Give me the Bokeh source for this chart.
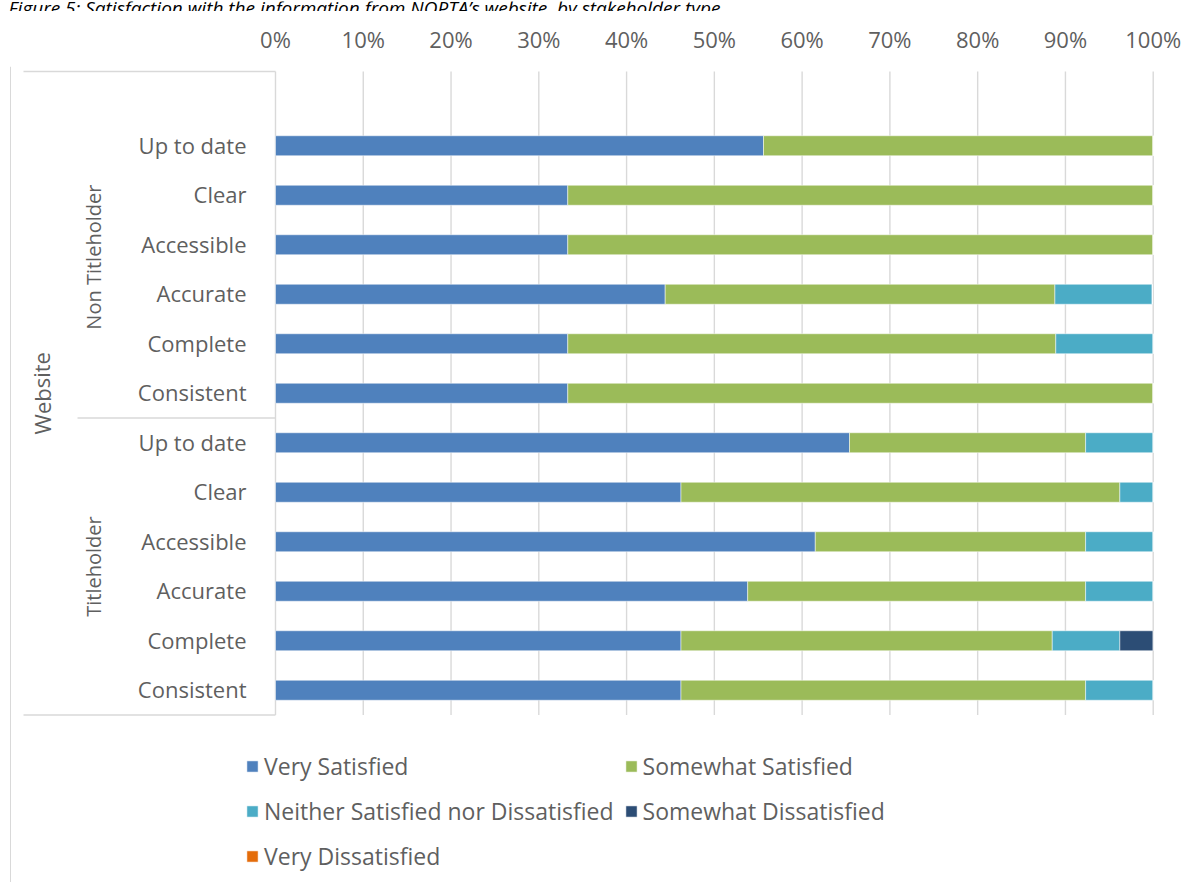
from bokeh.plotting import figure
from bokeh.layouts import column, row
from bokeh.models import Range1d, FixedTicker, ColumnDataSource
from bokeh.core.properties import value
from bokeh.embed import file_html
from bokeh.resources import INLINE

# ---------------- data ----------------
title_text = "Figure 5: Satisfaction with the information from NOPTA\u2019s website, by stakeholder type"
category_group = "Website"
stakeholders = ["Non Titleholder"] * 6 + ["Titleholder"] * 6
attributes = ["Up to date", "Clear", "Accessible", "Accurate", "Complete", "Consistent"] * 2

very_satisfied = [55.6, 33.3, 33.3, 44.4, 33.3, 33.3, 65.4, 46.2, 61.5, 53.8, 46.2, 46.2]
somewhat_satisfied = [44.4, 66.7, 66.7, 44.4, 55.6, 66.7, 26.9, 50.0, 30.8, 38.5, 42.3, 46.1]
neither = [0.0, 0.0, 0.0, 11.1, 11.1, 0.0, 7.7, 3.8, 7.7, 7.7, 7.7, 7.7]
somewhat_dissatisfied = [0.0] * 10 + [3.8, 0.0]
very_dissatisfied = [0.0] * 12

series_names = ["Very Satisfied", "Somewhat Satisfied", "Neither Satisfied nor Dissatisfied",
                "Somewhat Dissatisfied", "Very Dissatisfied"]
series_values = [very_satisfied, somewhat_satisfied, neither, somewhat_dissatisfied, very_dissatisfied]
colors = ["#4F81BD", "#9BBB59", "#4BACC6", "#2C4D75", "#E46C0A"]

x_ticks = list(range(0, 101, 10))
tick_labels = [f"{t}%" for t in x_ticks]

# ---------------- layout constants (page pixels) ----------------
PAGE_W, PAGE_H = 1200, 882
STRIP = 11                      # top strip height / left strip width
W, H = PAGE_W - STRIP, PAGE_H - STRIP
X0_PX, X100_PX = 275.0, 1152.7  # page x of 0% and 100%
PX_PER = (X100_PX - X0_PX) / 100.0
FRAME_TOP = 66                  # page y of the plot frame top
AREA_TOP_PX = 71.0              # page y of the category area top
SLOT = 49.5
FONT = "Open Sans"
GRAY = "#5F5F5F"
LINE = "#D9D9D9"


def dx(px):
    """page x pixel -> data x of the main figure"""
    return (px - X0_PX) / PX_PER


rows = list(range(len(attributes)))
top_edge = rows[0] - 1.5
bottom_edge = rows[-1] + 0.5

y_end = (FRAME_TOP - AREA_TOP_PX) / SLOT - 1.5
y_start = (PAGE_H - AREA_TOP_PX) / SLOT - 1.5

p = figure(width=W, height=H, title=None,
           x_range=Range1d(dx(STRIP), dx(PAGE_W)), y_range=Range1d(y_start, y_end),
           x_axis_location="above", y_axis_location=None,
           toolbar_location=None, output_backend="svg",
           min_border_left=0, min_border_right=0, min_border_bottom=0,
           min_border_top=FRAME_TOP - STRIP)
p.outline_line_color = None
p.background_fill_color = "white"
p.border_fill_color = "white"
p.xgrid.visible = False
p.ygrid.visible = False

ax = p.xaxis[0]
ax.ticker = FixedTicker(ticks=x_ticks)
ax.major_label_overrides = {t: lab for t, lab in zip(x_ticks, tick_labels)}
ax.axis_line_color = None
ax.major_tick_line_color = None
ax.minor_tick_line_color = None
ax.major_label_text_font = FONT
ax.major_label_text_font_size = "22px"
ax.major_label_text_color = GRAY
ax.major_label_standoff = 7

# gridlines (0% doubles as the category axis line)
p.segment(x0=x_ticks, y0=[top_edge] * len(x_ticks), x1=x_ticks, y1=[bottom_edge] * len(x_ticks),
          line_color=LINE, line_width=1.4)

# category-axis structure lines
n_nt = stakeholders.count("Non Titleholder")
sep = rows[n_nt - 1] + 0.5
p.segment(x0=[dx(23), dx(77), dx(23)], y0=[top_edge, sep, bottom_edge],
          x1=[0, 0, 0], y1=[top_edge, sep, bottom_edge], line_color=LINE, line_width=1.4)

# bars
data = {"row": rows}
for name, vals in zip(series_names, series_values):
    data[name] = vals
source = ColumnDataSource(data)
p.hbar_stack(series_names, y="row", height=0.404, color=colors, source=source,
             legend_label=series_names, line_color="white", line_width=0.5)

# category labels
p.text(x=dx(246), y=rows, text=attributes, text_align="right", text_baseline="middle",
       y_offset=-1, text_font=value(FONT), text_font_size="22px", text_color=GRAY)

# stakeholder group labels (rotated)
groups = ["Non Titleholder", "Titleholder"]
g_centers = []
for g in groups:
    idx = [r for r, s in zip(rows, stakeholders) if s == g]
    lo = idx[0] - (1.0 if idx[0] == rows[0] else 0.5)
    hi = idx[-1] + 0.5
    g_centers.append((lo + hi) / 2)
p.text(x=dx(93), y=g_centers, text=groups, angle=1.5708, text_align="center",
       text_baseline="middle", text_font=value(FONT), text_font_size="20px", text_color=GRAY)
p.text(x=dx(41), y=(top_edge + bottom_edge) / 2, text=[category_group], angle=1.5708,
       text_align="center", text_baseline="middle", text_font=value(FONT),
       text_font_size="22px", text_color=GRAY)

# legend
leg = p.legend[0]
leg.orientation = "horizontal"
leg.ncols = 2
leg.location = (245 - STRIP, 8.5)
leg.padding = 0
leg.margin = 0
leg.spacing = 10
leg.glyph_width = 14
leg.glyph_height = 14
leg.label_standoff = 5
leg.label_height = 35
leg.label_width = 347
leg.label_text_font = FONT
leg.label_text_font_size = "23px"
leg.label_text_color = GRAY
leg.border_line_color = None
leg.background_fill_alpha = 0
leg.click_policy = "none"

# ---------------- top strip: caption (cut by the page edge) + chart border top ----------------
top = figure(width=PAGE_W, height=STRIP, x_range=Range1d(0, PAGE_W), y_range=Range1d(STRIP, 0),
             x_axis_location=None, y_axis_location=None, toolbar_location=None,
             output_backend="svg", min_border=0, title=None)
top.outline_line_color = None
top.xgrid.visible = False
top.ygrid.visible = False
top.text(x=8, y=6.5, text=[title_text], text_baseline="alphabetic", text_font=value("Open Sans"),
         text_font_style="italic", text_font_size="19px", text_color="#000000")
top.segment(x0=[10, 10.25], y0=[10.25, 10], x1=[PAGE_W, 10.25], y1=[10.25, STRIP],
            line_color=LINE, line_width=1.5)

# ---------------- left strip: chart border left ----------------
left = figure(width=STRIP, height=H, x_range=Range1d(0, STRIP), y_range=Range1d(H, 0),
              x_axis_location=None, y_axis_location=None, toolbar_location=None,
              output_backend="svg", min_border=0, title=None)
left.outline_line_color = None
left.xgrid.visible = False
left.ygrid.visible = False
left.segment(x0=[10.25], y0=[0], x1=[10.25], y1=[H], line_color=LINE, line_width=1.5)

layout = column(top, row(left, p, spacing=0), spacing=0)
open("out.html", "w").write(file_html(layout, INLINE))
